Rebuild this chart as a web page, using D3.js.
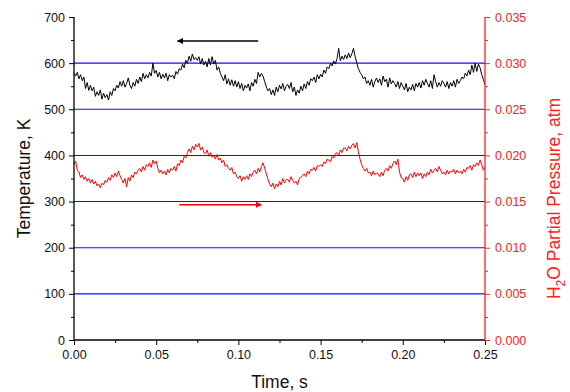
<!DOCTYPE html>
<html>
<head>
<meta charset="utf-8">
<script src="https://cdn.jsdelivr.net/npm/d3@7"></script>
<style>
  body { margin: 0; background: #fff; }
  text { font-family: "Liberation Sans", Arial, sans-serif; }
</style>
</head>
<body>
<div id="graph"></div>
<script>
// sampling step of both traces, s
var timeStep = 0.001;

// temperature trace, K (left axis)
var temperature = [
  579, 572, 580, 566, 575,  562, 570, 545, 558, 541,
  552, 540, 548, 528, 538,  530, 542, 522, 535, 525,
  532, 520, 538, 530, 545,  540, 552, 546, 560, 550,
  562, 548, 556, 568, 552,  545, 558, 550, 565, 556,
  570, 560, 578, 566, 575,  568, 580, 572, 600, 578,
  584, 570, 580, 566, 576,  568, 578, 562, 575, 570,
  574, 566, 582, 576, 588,  585, 598, 590, 606, 600,
  615, 604, 620, 608, 612,  606, 614, 598, 610, 596,
  604, 592, 610, 596, 614,  598, 606, 585, 592, 578,
  570, 562, 575, 555, 566,  552, 564, 550, 562, 548,
  560, 545, 556, 540, 552,  546, 555, 540, 558, 550,
  565, 556, 580, 570, 578,  572, 560, 548, 540, 545,
  532, 542, 530, 548, 538,  552, 544, 556, 540, 550,
  554, 545, 558, 538, 548,  530, 542, 535, 550, 540,
  555, 545, 560, 552, 566,  562, 570, 558, 575, 566,
  576, 570, 585, 578, 592,  588, 600, 594, 605, 598,
  610, 632, 605, 615, 608,  618, 610, 622, 612, 620,
  632, 615, 600, 588, 580,  575, 566, 570, 556, 562,
  552, 565, 548, 560, 568,  558, 566, 552, 572, 560,
  565, 548, 568, 555, 562,  556, 548, 560, 545, 558,
  550, 542, 556, 538, 548,  542, 554, 540, 556, 548,
  558, 546, 562, 552, 565,  556, 548, 562, 545, 575,
  560, 548, 558, 550, 562,  556, 548, 560, 545, 558,
  550, 562, 548, 565, 556,  562, 570, 566, 578, 572,
  585, 575, 596, 580, 600,  582, 598, 590, 575, 565,
  553
];

// H2O partial pressure trace, atm (right axis)
var pressure = [
  0.0190, 0.0194, 0.0184, 0.0182, 0.0176,  0.0179, 0.0174, 0.0177, 0.0172, 0.0175,
  0.0170, 0.0174, 0.0169, 0.0172, 0.0167,  0.0169, 0.0165, 0.0170, 0.0168, 0.0173,
  0.0171, 0.0176, 0.0173, 0.0179, 0.0176,  0.0181, 0.0177, 0.0183, 0.0178, 0.0174,
  0.0170, 0.0175, 0.0166, 0.0176, 0.0172,  0.0179, 0.0176, 0.0182, 0.0180, 0.0184,
  0.0186, 0.0182, 0.0188, 0.0184, 0.0190,  0.0188, 0.0192, 0.0187, 0.0195, 0.0191,
  0.0194, 0.0186, 0.0181, 0.0184, 0.0180,  0.0183, 0.0179, 0.0185, 0.0181, 0.0186,
  0.0184, 0.0188, 0.0183, 0.0191, 0.0189,  0.0195, 0.0192, 0.0199, 0.0197, 0.0203,
  0.0207, 0.0203, 0.0210, 0.0206, 0.0212,  0.0209, 0.0213, 0.0206, 0.0209, 0.0203,
  0.0202, 0.0206, 0.0199, 0.0203, 0.0198,  0.0200, 0.0196, 0.0201, 0.0195, 0.0197,
  0.0192, 0.0195, 0.0188, 0.0190, 0.0186,  0.0184, 0.0187, 0.0180, 0.0182, 0.0177,
  0.0175, 0.0178, 0.0172, 0.0177, 0.0174,  0.0178, 0.0174, 0.0180, 0.0177, 0.0182,
  0.0184, 0.0180, 0.0186, 0.0182, 0.0188,  0.0192, 0.0186, 0.0180, 0.0174, 0.0169,
  0.0166, 0.0170, 0.0164, 0.0169, 0.0166,  0.0172, 0.0168, 0.0175, 0.0170, 0.0174,
  0.0174, 0.0171, 0.0177, 0.0173, 0.0170,  0.0172, 0.0168, 0.0175, 0.0176, 0.0178,
  0.0180, 0.0177, 0.0183, 0.0180, 0.0185,  0.0184, 0.0187, 0.0183, 0.0189, 0.0188,
  0.0190, 0.0188, 0.0193, 0.0191, 0.0196,  0.0195, 0.0193, 0.0199, 0.0197, 0.0202,
  0.0203, 0.0200, 0.0206, 0.0203, 0.0208,  0.0208, 0.0205, 0.0210, 0.0207, 0.0211,
  0.0213, 0.0208, 0.0214, 0.0204, 0.0196,  0.0190, 0.0186, 0.0183, 0.0186, 0.0181,
  0.0182, 0.0178, 0.0183, 0.0179, 0.0181,  0.0180, 0.0177, 0.0182, 0.0178, 0.0184,
  0.0186, 0.0183, 0.0189, 0.0186, 0.0191,  0.0194, 0.0190, 0.0196, 0.0182, 0.0176,
  0.0175, 0.0171, 0.0177, 0.0173, 0.0179,  0.0180, 0.0176, 0.0182, 0.0177, 0.0181,
  0.0178, 0.0181, 0.0175, 0.0180, 0.0177,  0.0182, 0.0179, 0.0185, 0.0181, 0.0184,
  0.0186, 0.0182, 0.0188, 0.0184, 0.0180,  0.0182, 0.0179, 0.0184, 0.0180, 0.0183,
  0.0182, 0.0185, 0.0180, 0.0184, 0.0181,  0.0183, 0.0180, 0.0185, 0.0182, 0.0187,
  0.0186, 0.0189, 0.0184, 0.0190, 0.0188,  0.0192, 0.0189, 0.0195, 0.0190, 0.0184,
  0.0187
];

// tick values
var timeTicks = [0, 0.05, 0.10, 0.15, 0.20, 0.25];
var timeMinor = [0.025, 0.075, 0.125, 0.175, 0.225];
var tempTicks = [0, 100, 200, 300, 400, 500, 600, 700];
var tempMinor = [50, 150, 250, 350, 450, 550, 650];
var pressTicks = [0, 0.005, 0.010, 0.015, 0.020, 0.025, 0.030, 0.035];
var pressMinor = [0.0025, 0.0075, 0.0125, 0.0175, 0.0225, 0.0275, 0.0325];
var gridLevels = [100, 200, 300, 400, 500, 600];

// arrows: [time start, time end, temperature level]
var leftArrow = [0.112, 0.063, 648];
var rightArrow = [0.064, 0.114, 293];

var w = 570, h = 392;
var margin = {top: 17, right: 85, bottom: 52, left: 74};

var svg = d3.select("#graph")
  .append("svg")
  .attr("width", w)
  .attr("height", h);

var x = d3.scaleLinear().domain([0, 0.25]).range([margin.left, w - margin.right]);
var yT = d3.scaleLinear().domain([0, 700]).range([h - margin.bottom, margin.top]);
var yP = d3.scaleLinear().domain([0, 0.035]).range([h - margin.bottom, margin.top]);

// grid lines
svg.selectAll("line.grid")
  .data(gridLevels)
  .enter()
  .append("line")
    .attr("class", "grid")
    .attr("x1", x(0))
    .attr("x2", x(0.25))
    .attr("y1", function(d) { return yT(d); })
    .attr("y2", function(d) { return yT(d); })
    .attr("stroke", "#1010f0")
    .attr("stroke-width", 1.1);

// traces
var tLine = d3.line()
  .x(function(d, i) { return x(i * timeStep); })
  .y(function(d) { return yT(d); });
var pLine = d3.line()
  .x(function(d, i) { return x(i * timeStep); })
  .y(function(d) { return yP(d); });

svg.append("path")
  .attr("d", pLine(pressure))
  .attr("fill", "none")
  .attr("stroke", "#ff0000")
  .attr("stroke-width", 1);

svg.append("path")
  .attr("d", tLine(temperature))
  .attr("fill", "none")
  .attr("stroke", "#000")
  .attr("stroke-width", 1);

// arrows
var defs = svg.append("defs");
function marker(id, color) {
  defs.append("marker")
    .attr("id", id)
    .attr("viewBox", "0 0 10 10")
    .attr("refX", 9)
    .attr("refY", 5)
    .attr("markerWidth", 10)
    .attr("markerHeight", 6)
    .attr("markerUnits", "userSpaceOnUse")
    .attr("orient", "auto")
    .append("path")
      .attr("d", "M0,0L10,5L0,10Z")
      .attr("fill", color);
}
marker("headBlack", "#000");
marker("headRed", "#ff0000");

svg.append("line")
  .attr("x1", x(leftArrow[0])).attr("x2", x(leftArrow[1]))
  .attr("y1", yT(leftArrow[2])).attr("y2", yT(leftArrow[2]))
  .attr("stroke", "#000").attr("stroke-width", 1.5)
  .attr("marker-end", "url(#headBlack)");

svg.append("line")
  .attr("x1", x(rightArrow[0])).attr("x2", x(rightArrow[1]))
  .attr("y1", yT(rightArrow[2])).attr("y2", yT(rightArrow[2]))
  .attr("stroke", "#ff0000").attr("stroke-width", 1.5)
  .attr("marker-end", "url(#headRed)");

// axes
var bottom = svg.append("g")
  .attr("transform", "translate(0," + (h - margin.bottom) + ")")
  .call(d3.axisBottom(x).tickValues(timeTicks).tickFormat(d3.format(".2f")).tickSize(5).tickPadding(5));
bottom.append("g")
  .call(d3.axisBottom(x).tickValues(timeMinor).tickSize(3).tickFormat(""));

var left = svg.append("g")
  .attr("transform", "translate(" + margin.left + ",0)")
  .call(d3.axisLeft(yT).tickValues(tempTicks).tickSize(5).tickPadding(4));
left.append("g")
  .call(d3.axisLeft(yT).tickValues(tempMinor).tickSize(3).tickFormat(""));

var right = svg.append("g")
  .attr("transform", "translate(" + (w - margin.right) + ",0)")
  .call(d3.axisRight(yP).tickValues(pressTicks).tickFormat(d3.format(".3f")).tickSize(5).tickPadding(5));
right.append("g")
  .call(d3.axisRight(yP).tickValues(pressMinor).tickSize(3).tickFormat(""));

[bottom, left, right].forEach(function(g) {
  g.selectAll(".domain").attr("stroke-width", 1.3);
  g.selectAll("g path.domain").filter(function() { return this.parentNode !== g.node(); }).remove();
  g.selectAll("text").attr("font-size", "12.5px").attr("font-family", "Liberation Sans, Arial, sans-serif");
});
bottom.select(".domain").attr("d", "M" + x(0) + ",0H" + x(0.25));
left.select(".domain").attr("d", "M0," + yT(0) + "V" + yT(700));
right.select(".domain").attr("d", "M0," + yP(0) + "V" + yP(0.035));
right.selectAll("line, path").attr("stroke", "#ff2020");
right.selectAll("text").attr("fill", "#ff2020");
bottom.selectAll("text").attr("fill", "#111");
left.selectAll("text").attr("fill", "#111");

// axis titles
svg.append("text")
  .attr("x", (x(0) + x(0.25)) / 2)
  .attr("y", 388)
  .attr("text-anchor", "middle")
  .attr("font-size", "17.5px")
  .attr("fill", "#111")
  .text("Time, s");

svg.append("text")
  .attr("transform", "translate(30," + ((yT(0) + yT(700)) / 2) + ") rotate(-90)")
  .attr("text-anchor", "middle")
  .attr("font-size", "17.5px")
  .attr("fill", "#111")
  .text("Temperature, K");

var rt = svg.append("text")
  .attr("transform", "translate(560," + ((yT(0) + yT(700)) / 2 + 20) + ") rotate(-90)")
  .attr("text-anchor", "middle")
  .attr("font-size", "17.5px")
  .attr("fill", "#ff2020");
rt.append("tspan").text("H");
rt.append("tspan").attr("dy", 5).attr("font-size", "12px").text("2");
rt.append("tspan").attr("dy", -5).text("O Partial Pressure, atm");
</script>
</body>
</html>
